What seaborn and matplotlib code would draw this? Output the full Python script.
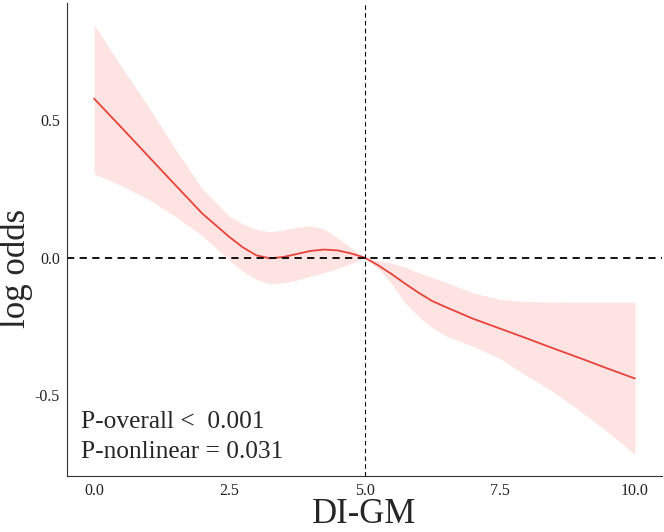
import numpy as np
import pandas as pd
import matplotlib
matplotlib.use("Agg")
import matplotlib.pyplot as plt
import seaborn as sns

# values
di_gm = [0, 0.5, 1, 1.5, 2, 2.5, 2.75, 3, 3.25, 3.5, 3.75, 4, 4.25, 4.5, 4.75,
         5, 5.25, 5.5, 5.75, 6, 6.25, 6.5, 7, 7.5, 8, 8.5, 9, 9.5, 10]
log_odds = [0.578, 0.474, 0.369, 0.264, 0.16, 0.075, 0.037, 0.008, -0.003, 0.002,
            0.013, 0.024, 0.029, 0.026, 0.015, 0.0, -0.028, -0.06, -0.095, -0.128,
            -0.158, -0.18, -0.222, -0.258, -0.294, -0.331, -0.367, -0.404, -0.44]
upper = [0.847, 0.695, 0.55, 0.395, 0.25, 0.15, 0.122, 0.102, 0.094, 0.1,
         0.11, 0.115, 0.105, 0.072, 0.035, 0.0, -0.012, -0.02, -0.035, -0.055,
         -0.072, -0.09, -0.128, -0.152, -0.16, -0.162, -0.163, -0.163, -0.163]
lower = [0.305, 0.262, 0.212, 0.15, 0.08, -0.01, -0.05, -0.08, -0.095, -0.092,
         -0.082, -0.068, -0.055, -0.04, -0.022, 0.0, -0.04, -0.095, -0.165, -0.215,
         -0.255, -0.285, -0.322, -0.367, -0.43, -0.49, -0.56, -0.635, -0.716]

df = pd.DataFrame({"x": di_gm, "y": log_odds, "lo": lower, "hi": upper})

sns.set_style("white")
plt.rcParams["font.family"] = ["Liberation Serif", "DejaVu Serif"]

fig = plt.figure(figsize=(6.64, 5.32), dpi=100)
ax = fig.add_axes([0.101, 0.105, 0.896, 0.889])

ax.fill_between(df["x"], df["lo"], df["hi"], color="#F8766D", alpha=0.2, lw=0)
sns.lineplot(data=df, x="x", y="y", ax=ax, color="#E8433A", lw=1.3)

ax.axhline(0, color="black", ls=(0, (4, 3)), lw=1.3)
ax.axvline(5, color="black", ls=(0, (4, 3)), lw=0.8)

ax.set_xlim(-0.5, 10.5)
ax.set_ylim(-0.795, 0.925)
ax.set_xticks([0, 2.5, 5, 7.5, 10])
ax.set_xticklabels(["0.0", "2.5", "5.0", "7.5", "10.0"])
ax.set_yticks([-0.5, 0, 0.5])
ax.set_yticklabels(["-0.5", "0.0", "0.5"])
ax.tick_params(axis="both", length=3, width=0.8, color="#333333",
               labelsize=11.5, labelcolor="#222222", pad=2)

sns.despine(ax=ax)
for s in ["left", "bottom"]:
    ax.spines[s].set_color("#333333")
    ax.spines[s].set_linewidth(0.8)

ax.set_xlabel("DI-GM", fontsize=25)
ax.xaxis.set_label_coords(0.5, -0.117)
ax.xaxis.label.set_va("bottom")
ax.set_ylabel("log odds", fontsize=25)
ax.yaxis.set_label_coords(-0.057, 0.44)

ax.text(-0.24, -0.62, "P-overall <  0.001", fontsize=18.3, va="baseline")
ax.text(-0.24, -0.73, "P-nonlinear = 0.031", fontsize=18.3, va="baseline")

fig.savefig("out.png", dpi=100)
